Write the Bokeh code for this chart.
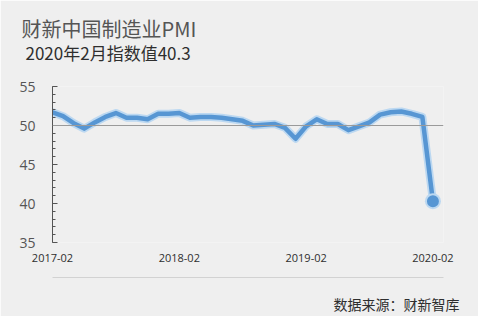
from bokeh.plotting import figure
from bokeh.models import (Span, FixedTicker, SingleIntervalTicker, Range1d, ColumnDataSource,
                          Title, LinearAxis)
from bokeh.embed import file_html
from bokeh.resources import INLINE

months = ["2017-02","2017-03","2017-04","2017-05","2017-06","2017-07","2017-08","2017-09",
          "2017-10","2017-11","2017-12","2018-01","2018-02","2018-03","2018-04","2018-05",
          "2018-06","2018-07","2018-08","2018-09","2018-10","2018-11","2018-12","2019-01",
          "2019-02","2019-03","2019-04","2019-05","2019-06","2019-07","2019-08","2019-09",
          "2019-10","2019-11","2019-12","2020-01","2020-02"]
pmi = [51.7, 51.2, 50.3, 49.6, 50.4, 51.1, 51.6, 51.0, 51.0, 50.8, 51.5, 51.5, 51.6,
       51.0, 51.1, 51.1, 51.0, 50.8, 50.6, 50.0, 50.1, 50.2, 49.7, 48.3, 49.9, 50.8,
       50.2, 50.2, 49.4, 49.9, 50.4, 51.4, 51.7, 51.8, 51.5, 51.1, 40.3]
tick_labels = ["2017-02", "2018-02", "2019-02", "2020-02"]
title_text = "财新中国制造业PMI"
subtitle_text = "2020年2月指数值40.3"
source_text = "数据来源：财新智库"
ref_value = 50

BG = "#efefef"
BLUE = "#5796d3"
HALO = "#bcd8f1"

x = list(range(len(months)))
src = ColumnDataSource(dict(x=x, y=pmi))

p = figure(width=478, height=316, output_backend="svg", toolbar_location=None,
           x_range=Range1d(0, 37), y_range=Range1d(35, 55),
           min_border_left=52, min_border_right=35, min_border_top=86, min_border_bottom=74,
           background_fill_color=BG, border_fill_color=BG, outline_line_color=None)
p.grid.visible = False
p.title.visible = False

p.add_layout(Span(location=ref_value, dimension="width", line_color="#9a9a9a", line_width=1))

p.line("x", "y", source=src, line_color=HALO, line_width=8, line_join="round", line_cap="round")
p.line("x", "y", source=src, line_color=BLUE, line_width=4.5, line_join="round", line_cap="round")
p.scatter(x=[x[-1]], y=[pmi[-1]], size=16, fill_color=HALO, line_color=None)
p.scatter(x=[x[-1]], y=[pmi[-1]], size=12, fill_color=BLUE, line_color=None)

p.yaxis.ticker = SingleIntervalTicker(interval=5, num_minor_ticks=5)
p.yaxis.axis_line_color = "#555555"
p.yaxis.major_tick_line_color = "#555555"
p.yaxis.minor_tick_line_color = "#555555"
p.yaxis.major_tick_in = 5
p.yaxis.major_tick_out = 0
p.yaxis.minor_tick_in = 3
p.yaxis.minor_tick_out = 0
p.yaxis.major_label_standoff = 17
p.yaxis.major_label_text_font = "Open Sans"
p.yaxis.major_label_text_font_size = "14px"
p.yaxis.major_label_text_color = "#555555"

p.xaxis.ticker = FixedTicker(ticks=[0, 12, 24, 36])
p.xaxis.major_label_overrides = {0: tick_labels[0], 12: tick_labels[1],
                                 24: tick_labels[2], 36: tick_labels[3]}
p.xaxis.axis_line_color = None
p.xaxis.major_tick_line_color = None
p.xaxis.minor_tick_line_color = None
p.xaxis.major_label_standoff = 5
p.xaxis.major_label_text_font = "Open Sans"
p.xaxis.major_label_text_font_size = "11px"
p.xaxis.major_label_text_color = "#2e2e2e"


def spacer_axis(gap, line_color=None):
    """An axis without labels, used only to reserve a band of the border."""
    ax = LinearAxis(ticker=FixedTicker(ticks=[0]), major_label_overrides={0: ""},
                    major_label_text_font_size="1px", major_label_standoff=0,
                    major_tick_out=gap, major_tick_in=0, major_tick_line_color=None,
                    minor_tick_out=0, minor_tick_in=0, minor_tick_line_color=None,
                    axis_line_color=line_color, axis_line_width=1)
    return ax


# header: spacer next to the frame, then subtitle, then title (outermost)
p.add_layout(spacer_axis(22), "above")
p.add_layout(Title(text=subtitle_text, align="left", offset=-27, standoff=0,
                   vertical_align="bottom", text_font="Noto Sans CJK SC",
                   text_font_size="17px", text_font_style="normal", text_color="#2e2e2e"), "above")
p.add_layout(Title(text=title_text, align="left", offset=-31, standoff=-10,
                   vertical_align="bottom", text_font="Noto Sans CJK SC",
                   text_font_size="20px", text_font_style="normal", text_color="#555555"), "above")

# footer: gap, separator line, gap, source
p.add_layout(spacer_axis(13), "below")
p.add_layout(spacer_axis(14, line_color="#d2d2d2"), "below")
p.add_layout(Title(text=source_text, align="left", offset=281, standoff=0,
                   vertical_align="bottom", text_font="Noto Sans CJK SC",
                   text_font_size="14px", text_font_style="normal", text_color="#2e2e2e"), "below")

open("out.html", "w").write(file_html(p, INLINE))
